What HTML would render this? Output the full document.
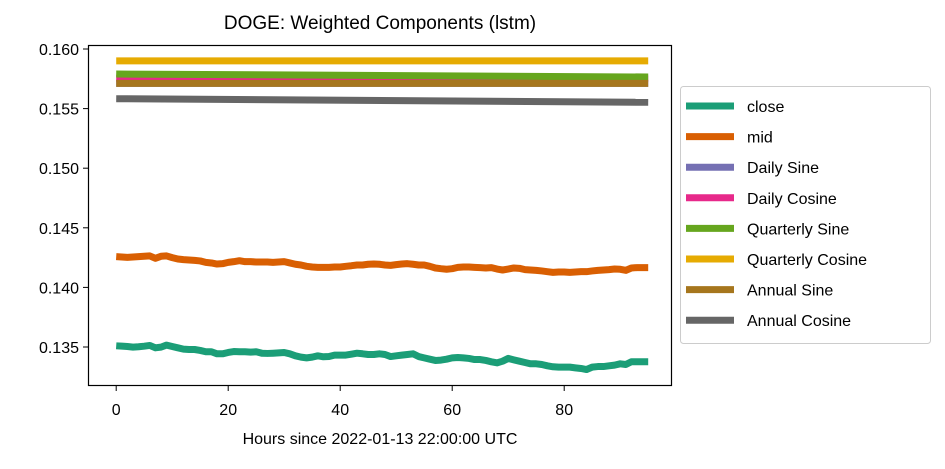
<!DOCTYPE html>
<html><head><meta charset="utf-8"><style>
body{margin:0;background:#fff;}
svg{font-family:"Liberation Sans","DejaVu Sans",sans-serif;}
</style></head><body>
<svg id="chart" width="945" height="464" viewBox="0 0 945 464" xmlns="http://www.w3.org/2000/svg">
<rect width="945" height="464" fill="#fff"/>
<text x="380" y="29" font-size="19" text-anchor="middle" fill="#000">DOGE: Weighted Components (lstm)</text>
<g id="series"></g>
<rect x="88.5" y="45.5" width="583" height="340" fill="none" stroke="#000" stroke-width="1.2"/>
<g id="xticks"></g>
<g id="yticks"></g>
<text x="380" y="444" font-size="16" text-anchor="middle">Hours since 2022-01-13 22:00:00 UTC</text>
<g id="legend"></g>
</svg>
<script>
const closeVals=[.13510,.13507,.13504,.13499,.13502,.13507,.13513,.13493,.13499,.13516,.13504,.13493,.13482,.13479,.13479,.13471,.13460,.13460,.13443,.13443,.13454,.13462,.13460,.13460,.13457,.13460,.13448,.13446,.13448,.13451,.13454,.13443,.13426,.13415,.13409,.13415,.13426,.13418,.13420,.13432,.13432,.13432,.13440,.13448,.13443,.13437,.13437,.13443,.13437,.13420,.13426,.13432,.13437,.13443,.13420,.13409,.13398,.13387,.13390,.13398,.13409,.13412,.13409,.13404,.13395,.13395,.13387,.13376,.13367,.13381,.13404,.13392,.13381,.13370,.13359,.13359,.13353,.13342,.13334,.13331,.13331,.13331,.13325,.13320,.13311,.13331,.13336,.13336,.13342,.13348,.13359,.13353,.13376,.13376,.13376,.13376];
const midVals=[.14258,.14255,.14252,.14255,.14258,.14261,.14264,.14244,.14261,.14264,.14250,.14238,.14233,.14230,.14227,.14222,.14210,.14205,.14196,.14199,.14210,.14216,.14224,.14216,.14216,.14213,.14213,.14213,.14210,.14213,.14216,.14205,.14194,.14188,.14177,.14171,.14168,.14168,.14168,.14171,.14171,.14177,.14182,.14188,.14188,.14194,.14196,.14194,.14188,.14185,.14191,.14196,.14199,.14194,.14188,.14188,.14177,.14163,.14157,.14152,.14157,.14168,.14171,.14171,.14168,.14166,.14163,.14166,.14154,.14146,.14154,.14163,.14160,.14149,.14146,.14143,.14138,.14132,.14126,.14129,.14129,.14126,.14129,.14132,.14132,.14138,.14143,.14146,.14149,.14154,.14152,.14143,.14163,.14166,.14166,.14166];
const flatX=[0,95];
const dailySine=[0.15712,0.15712];
const dailyCosine=[0.15755,0.15750];
const quarterlySine=[0.15790,0.15765];
const quarterlyCosine=[0.15900,0.15900];
const annualSine=[0.15712,0.15712];
const annualCosine=[0.15583,0.15553];
const seriesNames=["close","mid","Daily Sine","Daily Cosine","Quarterly Sine","Quarterly Cosine","Annual Sine","Annual Cosine"];
const seriesColors=["#1b9e77","#d95f02","#7570b3","#e7298a","#66a61e","#e6ab02","#a6761d","#666666"];
const xTicks=[0,20,40,60,80];
const yTicks=[0.135,0.140,0.145,0.150,0.155,0.160];
const yTickLabels=["0.135","0.140","0.145","0.150","0.155","0.160"];

const NS="http://www.w3.org/2000/svg";
function xs(v){return 116.2+v*5.6;}
function ys(v){return 49+(0.160-v)*11920;}
const idx=closeVals.map((_,i)=>i);
const allSeries=[[idx,closeVals],[idx,midVals],[flatX,dailySine],[flatX,dailyCosine],[flatX,quarterlySine],[flatX,quarterlyCosine],[flatX,annualSine],[flatX,annualCosine]];
const sg=document.getElementById('series');
allSeries.forEach((s,k)=>{
  const p=document.createElementNS(NS,'polyline');
  p.setAttribute('points',s[0].map((x,i)=>xs(x).toFixed(2)+','+ys(s[1][i]).toFixed(2)).join(' '));
  p.setAttribute('fill','none');p.setAttribute('stroke',seriesColors[k]);
  p.setAttribute('stroke-width','7');p.setAttribute('stroke-linejoin','round');
  
  
  sg.appendChild(p);
});
const xg=document.getElementById('xticks');
xTicks.forEach(t=>{
  const l=document.createElementNS(NS,'line');
  l.setAttribute('x1',xs(t));l.setAttribute('x2',xs(t));l.setAttribute('y1',386);l.setAttribute('y2',391);l.setAttribute('stroke','#000');
  
  
  xg.appendChild(l);
  const tx=document.createElementNS(NS,'text');
  tx.setAttribute('x',xs(t));tx.setAttribute('y',415);tx.setAttribute('font-size','16');tx.setAttribute('text-anchor','middle');
  tx.textContent=t;
  
  
  xg.appendChild(tx);
});
const yg=document.getElementById('yticks');
yTicks.forEach((t,i)=>{
  const l=document.createElementNS(NS,'line');
  l.setAttribute('x1',83);l.setAttribute('x2',88);l.setAttribute('y1',ys(t));l.setAttribute('y2',ys(t));l.setAttribute('stroke','#000');
  
  
  yg.appendChild(l);
  const tx=document.createElementNS(NS,'text');
  tx.setAttribute('x',79);tx.setAttribute('y',ys(t)+6);tx.setAttribute('font-size','16');tx.setAttribute('text-anchor','end');
  tx.textContent=yTickLabels[i];
  
  
  yg.appendChild(tx);
});
const lg=document.getElementById('legend');
const box=document.createElementNS(NS,'rect');
box.setAttribute('x',680.5);box.setAttribute('y',86.5);box.setAttribute('width',250);box.setAttribute('height',257);box.setAttribute('rx',3);
box.setAttribute('fill','#fff');box.setAttribute('stroke','#ccc');


lg.appendChild(box);
seriesNames.forEach((n,k)=>{
  const y=106+k*30.6;
  const l=document.createElementNS(NS,'line');
  l.setAttribute('x1',686);l.setAttribute('x2',734);l.setAttribute('y1',y);l.setAttribute('y2',y);
  l.setAttribute('stroke',seriesColors[k]);l.setAttribute('stroke-width','7');
  
  
  lg.appendChild(l);
  const tx=document.createElementNS(NS,'text');
  tx.setAttribute('x',747);tx.setAttribute('y',y+6);tx.setAttribute('font-size','16');
  tx.textContent=n;
  
  
  lg.appendChild(tx);
});
</script>
</body></html>
